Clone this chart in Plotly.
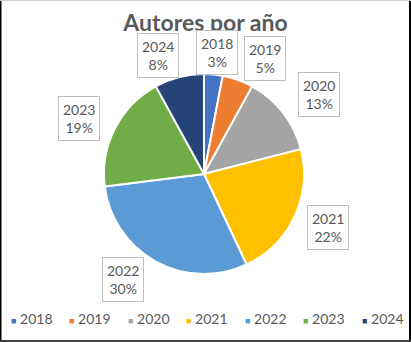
import math
import plotly.graph_objects as go

years = ["2018", "2019", "2020", "2021", "2022", "2023", "2024"]
values = [3, 5, 13, 22, 30, 19, 8]
colors = ["#4472C4", "#ED7D31", "#A5A5A5", "#FFC000", "#5B9BD5", "#70AD47", "#264478"]

# manual nudges of the callout labels (pixels), like dragged data labels
label_nudge = [(0, 0), (14, -1), (4, -5), (-3, 2), (-14, -1), (0, 0), (-11, 0)]

W, H = 411, 342
cx, cy, rad = 204, 174, 100  # pie centre and radius in pixels

fig = go.Figure(go.Pie(
    labels=years, values=values, sort=False, direction="clockwise", rotation=0,
    marker=dict(colors=colors, line=dict(color="white", width=2)),
    textinfo="none", hoverinfo="label+percent", showlegend=False,
    domain=dict(x=[(cx - rad) / W, (cx + rad) / W], y=[1 - (cy + rad) / H, 1 - (cy - rad) / H]),
))

total = sum(values)
cum = 0
annotations = []
rx, ry = 140, 122
for (y, v), (dx, dy) in zip(zip(years, values), label_nudge):
    mid = (cum + v / 2) / total * 2 * math.pi
    cum += v
    px = cx + rx * math.sin(mid) + dx
    py = cy - ry * math.cos(mid) + dy
    pct = round(v / total * 100)
    annotations.append(dict(
        x=px / W, y=1 - py / H, xref="paper", yref="paper",
        text=f"{y}<br>{pct}%", showarrow=False,
        font=dict(family="Lato", size=14, color="#595959"),
        bordercolor="#BFBFBF", borderwidth=1, borderpad=4, bgcolor="white",
        xanchor="center", yanchor="middle",
    ))

# legend built from data
step = 58.5
for i, (y, c) in enumerate(zip(years, colors)):
    lx = 207 + (i - 3) * step
    annotations.append(dict(
        x=lx / W, y=1 - 318 / H, xref="paper", yref="paper", showarrow=False,
        text=f"<span style='color:{c};font-size:9px'>■</span> {y}",
        font=dict(family="Lato", size=14, color="#595959"),
        xanchor="center", yanchor="middle",
    ))

shapes = [
    dict(type="line", xref="paper", yref="paper", x0=0.5 / W, x1=0.5 / W, y0=0, y1=1, line=dict(color="black", width=2)),
    dict(type="line", xref="paper", yref="paper", x0=410 / W, x1=410 / W, y0=0, y1=1, line=dict(color="black", width=2)),
    dict(type="line", xref="paper", yref="paper", x0=0, x1=1, y0=1 - 341 / H, y1=1 - 341 / H, line=dict(color="#404040", width=2)),
    dict(type="line", xref="paper", yref="paper", x0=0, x1=1, y0=1 - 0.5 / H, y1=1 - 0.5 / H, line=dict(color="#D0D0D0", width=1)),
]

fig.update_layout(
    width=W, height=H, margin=dict(l=0, r=0, t=0, b=0),
    paper_bgcolor="white", plot_bgcolor="white",
    title=dict(text="<b>Autores por año</b>", x=0.5, xanchor="center", y=1 - 23 / H, yanchor="middle",
               font=dict(family="Lato", size=23, color="#595959")),
    annotations=annotations, shapes=shapes,
)

fig.write_html("out.html", config={"displayModeBar": False},
               post_script="document.body.style.margin='0px';document.body.style.overflow='hidden';")
